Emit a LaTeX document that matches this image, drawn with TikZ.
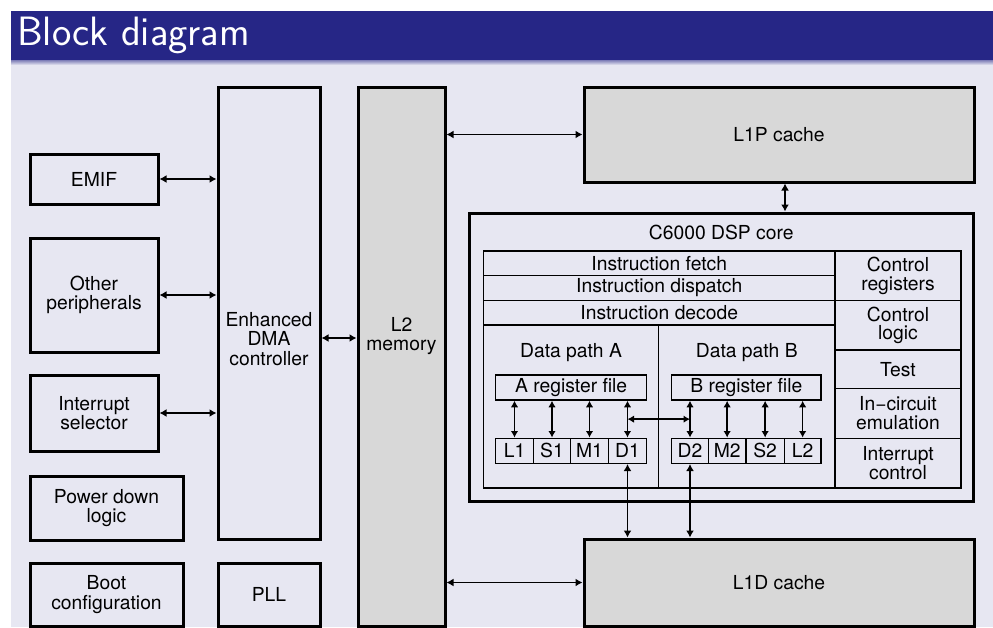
\documentclass[tikz,border=0pt]{standalone}
\usepackage{fontspec}
\setmainfont{TeX Gyre Heros}
\usetikzlibrary{arrows.meta,calc}
\definecolor{bg}{RGB}{231,231,242}
\definecolor{band}{RGB}{38,38,134}
\definecolor{boxgray}{RGB}{216,216,216}
\begin{document}
\begin{tikzpicture}[x=1pt,y=-1pt,
  txt/.style={font=\fontsize{19.3}{19.3}\selectfont, align=center, inner sep=0pt},
  big/.style={draw, line width=3pt, inner sep=0pt, align=center, font=\fontsize{19.3}{19.3}\selectfont},
  cell/.style={draw, line width=1.5pt, inner sep=0pt, align=center, font=\fontsize{19.3}{18.5}\selectfont},
  biarrow/.style={line width=1.7pt, {Latex[length=7pt,width=8pt]}-{Latex[length=7pt,width=8pt]}},
  thinarrow/.style={line width=1.5pt, {Latex[length=6.5pt,width=7.5pt]}-{Latex[length=6.5pt,width=7.5pt]}}]
\useasboundingbox (0,0) rectangle (993,627);
\clip (0,0) rectangle (993,627);
\fill[white] (0,0) rectangle (993,627);
\fill[bg] (11,11) rectangle (993,627);
\fill[band] (11,11) rectangle (993,60);
\shade[top color=band!55!bg, bottom color=bg] (11,60) rectangle (993,65);
\node[anchor=base west, inner sep=0pt, text=white, font=\sffamily\fontsize{41}{41}\selectfont] (title) at (17,45) {Block diagram};

% left column
\node[big, minimum width=128pt, minimum height=50pt] (emif) at (94,179) {EMIF};
\node[big, minimum width=128pt, minimum height=114pt] (other) at (94,295) {Other\\peripherals};
\node[big, minimum width=128pt, minimum height=76pt] (intsel) at (94,413) {Interrupt\\selector};
\node[big, minimum width=153pt, minimum height=64pt] (power) at (106.5,508) {Power down\\logic};
\node[big, minimum width=153pt, minimum height=63pt] (boot) at (106.5,594.5) {Boot\\configuration};
% DMA, PLL, L2
\node[big, minimum width=102pt, minimum height=452pt] (dma) at (269,313) {};
\node[txt] (dmatext) at (269,339) {Enhanced\\DMA\\controller};
\node[big, minimum width=102pt, minimum height=63pt] (pll) at (269,594.5) {PLL};
\node[big, fill=boxgray, minimum width=87pt, minimum height=539pt] (l2) at (401.5,356.5) {};
\node[txt] (l2text) at (401.5,336) {L2\\memory};
% caches
\node[big, fill=boxgray, minimum width=390pt, minimum height=95pt] (l1p) at (779,134.5) {L1P cache};
\node[big, fill=boxgray, minimum width=390pt, minimum height=87pt] (l1d) at (779,582.5) {L1D cache};
% core
\node[big, minimum width=504.5pt, minimum height=288pt] (core) at (721.25,357) {};
\node[txt] (coretitle) at (721.25,232) {C6000 DSP core};
\node[cell, minimum width=351.5pt, minimum height=24.5pt] (fetch) at (659.25,263.25) {Instruction fetch};
\node[cell, minimum width=351.5pt, minimum height=25pt] (dispatch) at (659.25,288) {Instruction dispatch};
\node[cell, minimum width=351.5pt, minimum height=24.5pt] (decode) at (659.25,312.75) {Instruction decode};
\node[cell, minimum width=175pt, minimum height=163pt] (dpa) at (571,406.5) {};
\node[cell, minimum width=176.5pt, minimum height=163pt] (dpb) at (746.75,406.5) {};
\node[txt] (dpatext) at (571,353) {Data path A};
\node[txt] (dpbtext) at (746.75,353) {Data path B};
\node[cell, minimum width=126pt, minimum height=49.5pt] (creg) at (898,275.75) {Control\\registers};
\node[cell, minimum width=126pt, minimum height=49.5pt] (clog) at (898,325.25) {Control\\logic};
\node[cell, minimum width=126pt, minimum height=38.3pt] (test) at (898,369.15) {Test};
\node[cell, minimum width=126pt, minimum height=50pt] (ice) at (898,413.3) {In−circuit\\emulation};
\node[cell, minimum width=126pt, minimum height=49.7pt] (intc) at (898,463.15) {Interrupt\\control};
\node[cell, minimum width=151pt, minimum height=25pt] (rega) at (571.2,387.5) {A register file};
\node[cell, minimum width=149.3pt, minimum height=25pt] (regb) at (746.35,387.5) {B register file};
\node[cell, minimum width=37.6pt, minimum height=25pt] (ua1) at (514.5,450.8) {L1};
\node[cell, minimum width=37.4pt, minimum height=25pt] (ua2) at (552,450.8) {S1};
\node[cell, minimum width=37.6pt, minimum height=25pt] (ua3) at (589.5,450.8) {M1};
\node[cell, minimum width=38.4pt, minimum height=25pt] (ua4) at (627.5,450.8) {D1};
\node[cell, minimum width=36.6pt, minimum height=25pt] (ub1) at (690,450.8) {D2};
\node[cell, minimum width=37.7pt, minimum height=25pt] (ub2) at (727.15,450.8) {M2};
\node[cell, minimum width=38.3pt, minimum height=25pt] (ub3) at (765.15,450.8) {S2};
\node[cell, minimum width=36.7pt, minimum height=25pt] (ub4) at (802.65,450.8) {L2};

% connectors
\draw[biarrow] (emif.east) -- (emif.east -| dma.west);
\draw[biarrow] (other.east) -- (other.east -| dma.west);
\draw[biarrow] (intsel.east) -- (intsel.east -| dma.west);
\draw[biarrow] ([yshift=-25pt]dma.east) -- ([yshift=-25pt]dma.east -| l2.west);
\draw[biarrow] (l1p.west -| l2.east) -- (l1p.west);
\draw[biarrow] (l1d.west -| l2.east) -- (l1d.west);
\draw[biarrow] ([xshift=6pt]l1p.south) -- ([xshift=6pt]l1p.south |- core.north);
\foreach \u in {ua1,ua2,ua3,ua4}
  \draw[thinarrow] (\u.north |- rega.south) -- (\u.north);
\foreach \u in {ub1,ub2,ub3,ub4}
  \draw[thinarrow] (\u.north |- regb.south) -- (\u.north);
\coordinate (cross) at ($(ua4.north)!0.5!(ua4.north |- rega.south)$);
\draw[thinarrow] (cross) -- (cross -| ub1.north);
\draw[biarrow] (ua4.south) -- (ua4.south |- l1d.north);
\draw[biarrow] (ub1.south) -- (ub1.south |- l1d.north);
\end{tikzpicture}
\end{document}
